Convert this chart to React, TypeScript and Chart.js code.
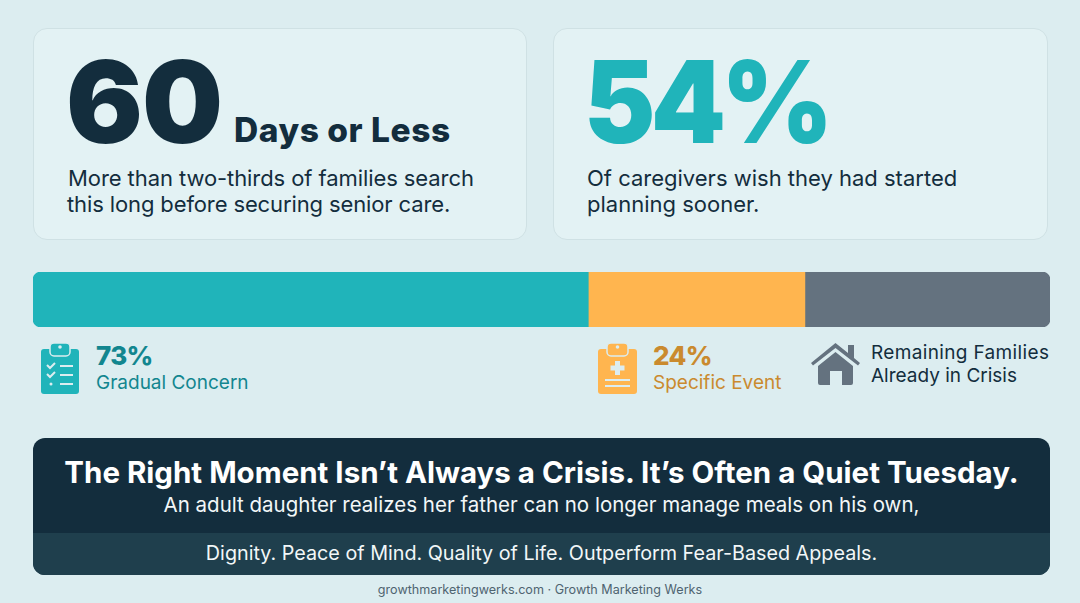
import React, { useEffect, useRef } from "react";
import { Chart, registerables } from "chart.js";

Chart.register(...registerables);

// Bar lengths as drawn in the picture (the picture's segments are not in proportion to its printed 73 / 24 labels)
const categories = ["Families"];
const segmentNames = ["Gradual Concern", "Specific Event", "Already in Crisis"];
const segmentValues = [54.6, 21.3, 24.1];
const segmentColors = ["#20b4ba", "#ffb54f", "#64727f"];

const FONT = "Inter, sans-serif";
const HEAD = "Inter, sans-serif";

type TP = {
  x: number; y: number; size: number; weight?: number; color: string; text: string;
  center?: boolean; ls?: number; font?: string; w?: number; sx?: number;
};

function T({ x, y, size, weight = 400, color, text, center, ls = 0, font = FONT, w, sx }: TP) {
  return (
    <div
      style={{
        position: "absolute",
        left: x,
        top: y,
        width: center ? w : undefined,
        textAlign: center ? "center" : "left",
        fontFamily: font,
        fontSize: size,
        fontWeight: weight,
        color,
        letterSpacing: ls,
        lineHeight: 1,
        whiteSpace: "nowrap",
        transform: sx ? `scaleX(${sx})` : undefined,
        transformOrigin: "left center",
      }}
    >
      {text}
    </div>
  );
}

const cardStyle = (left: number, width: number): React.CSSProperties => ({
  position: "absolute",
  left,
  top: 28,
  width,
  height: 212,
  boxSizing: "border-box",
  borderRadius: 14,
  background: "#e3f2f4",
  border: "1px solid #cfe1e4",
});

export default function App() {
  const ref = useRef<HTMLCanvasElement | null>(null);
  useEffect(() => {
    if (!ref.current) return;
    const total = segmentValues.reduce((a, b) => a + b, 0);
    const radii = [
      { topLeft: 8, bottomLeft: 8, topRight: 0, bottomRight: 0 },
      0,
      { topLeft: 0, bottomLeft: 0, topRight: 8, bottomRight: 8 },
    ];
    const chart = new Chart(ref.current, {
      type: "bar",
      data: {
        labels: categories,
        datasets: segmentValues.map((v, i) => ({
          label: segmentNames[i],
          data: [v],
          backgroundColor: segmentColors[i],
          borderWidth: 0,
          borderSkipped: false,
          borderRadius: radii[i] as any,
          barPercentage: 1,
          categoryPercentage: 1,
        })),
      },
      options: {
        indexAxis: "y",
        animation: false,
        responsive: false,
        maintainAspectRatio: false,
        layout: { padding: 0 },
        plugins: { legend: { display: false }, tooltip: { enabled: false }, title: { display: false } },
        scales: {
          x: { stacked: true, display: false, min: 0, max: total },
          y: { stacked: true, display: false },
        },
      },
    });
    return () => chart.destroy();
  }, []);

  return (
    <div
      style={{
        position: "fixed",
        left: 0,
        top: 0,
        width: 1080,
        height: 603,
        overflow: "hidden",
        background: "#dcedf0",
      }}
    >
      <div style={cardStyle(33, 494)} />
      <div style={cardStyle(553, 495)} />

      <T x={66} y={45} size={114} weight={900} color="#132d3d" text="60" font={HEAD} ls={-1} />
      <T x={234} y={114} size={33.5} weight={800} color="#132d3d" text="Days or Less" font={HEAD} ls={0.55} />
      <T x={68} y={167} size={22} color="#132d3d" text="More than two-thirds of families search" ls={-0.08} />
      <T x={67} y={193} size={22} color="#132d3d" text="this long before securing senior care." ls={-0.12} />

      <T x={584} y={45} size={114} weight={900} color="#20b4ba" text="54%" font={HEAD} ls={-5} sx={0.94} />
      <T x={587} y={167} size={22} color="#132d3d" text="Of caregivers wish they had started" />
      <T x={587} y={193} size={22} color="#132d3d" text="planning sooner." />

      <canvas
        ref={ref}
        width={1017}
        height={55}
        style={{ position: "absolute", left: 33, top: 272, width: 1017, height: 55 }}
      />

      {/* clipboard check icon */}
      <svg style={{ position: "absolute", left: 41, top: 342 }} width={38} height={52} viewBox="0 0 38 52">
        <rect x="0" y="7" width="38" height="45" rx="3" fill="#20b4ba" />
        <rect x="9" y="1" width="20" height="13" rx="4" fill="#20b4ba" stroke="#dcedf0" strokeWidth="1.5" />
        <circle cx="19" cy="5" r="1.8" fill="#dcedf0" />
        <path d="M6 23l3 3 5-5M6 32l3 3 5-5" stroke="#dcedf0" strokeWidth="2" fill="none" />
        <path d="M19 24h13M19 33h13M19 42h13" stroke="#dcedf0" strokeWidth="2" />
        <circle cx="10" cy="42" r="1.5" fill="#dcedf0" />
      </svg>
      <T x={96} y={343} size={26} weight={800} color="#12868f" text="73%" ls={-0.7} />
      <T x={96} y={373} size={19} color="#12868f" text="Gradual Concern" />

      {/* clipboard medical icon */}
      <svg style={{ position: "absolute", left: 598, top: 342 }} width={39} height={52} viewBox="0 0 39 52">
        <rect x="0" y="7" width="39" height="45" rx="3" fill="#ffb54f" />
        <rect x="9" y="1" width="21" height="13" rx="4" fill="#ffb54f" stroke="#dcedf0" strokeWidth="1.5" />
        <circle cx="19.5" cy="5" r="1.8" fill="#dcedf0" />
        <path d="M19.5 19v14M12.500 26h14" stroke="#dcedf0" strokeWidth="5" />
        <path d="M7 38h25M7 44h25" stroke="#dcedf0" strokeWidth="2" />
      </svg>
      <T x={653} y={343} size={26} weight={800} color="#ca8a2e" text="24%" ls={-0.7} />
      <T x={653} y={373} size={19} color="#ca8a2e" text="Specific Event" />

      {/* house icon */}
      <svg style={{ position: "absolute", left: 811, top: 342 }} width={49} height={43} viewBox="0 0 49 43">
        <path d="M0 21L24.5 1 37 11V3h6v13l6 5-2 2.500L24.500 6 2 23.500z" fill="#64727f" />
        <path d="M7 24L24.500 10 42 24v17a2 2 0 0 1-2 2H31V29H19v14H9a2 2 0 0 1-2-2z" fill="#64727f" />
      </svg>
      <T x={871} y={343} size={19} color="#132d3d" text="Remaining Families" ls={0.35} />
      <T x={871} y={366} size={19} color="#132d3d" text="Already in Crisis" />

      <div
        style={{
          position: "absolute",
          left: 33,
          top: 438,
          width: 1017,
          height: 137,
          borderRadius: 12,
          overflow: "hidden",
          background: "#132d3d",
        }}
      >
        <div style={{ position: "absolute", left: 0, top: 95, width: 1017, height: 42, background: "#1f3f4d" }} />
      </div>
      <T x={33} w={1017} center y={458} size={29.5} weight={700} color="#ffffff" text="The Right Moment Isn’t Always a Crisis. It’s Often a Quiet Tuesday." />
      <T x={33} w={1017} center y={495} size={20.5} color="#f2f7f8" text="An adult daughter realizes her father can no longer manage meals on his own," />
      <T x={33} w={1017} center y={544} size={19.75} color="#f2f7f8" text="Dignity. Peace of Mind. Quality of Life. Outperform Fear-Based Appeals." />

      <T x={0} w={1080} center y={584} size={12.6} color="#4f6470" text="growthmarketingwerks.com · Growth Marketing Werks" />
    </div>
  );
}
